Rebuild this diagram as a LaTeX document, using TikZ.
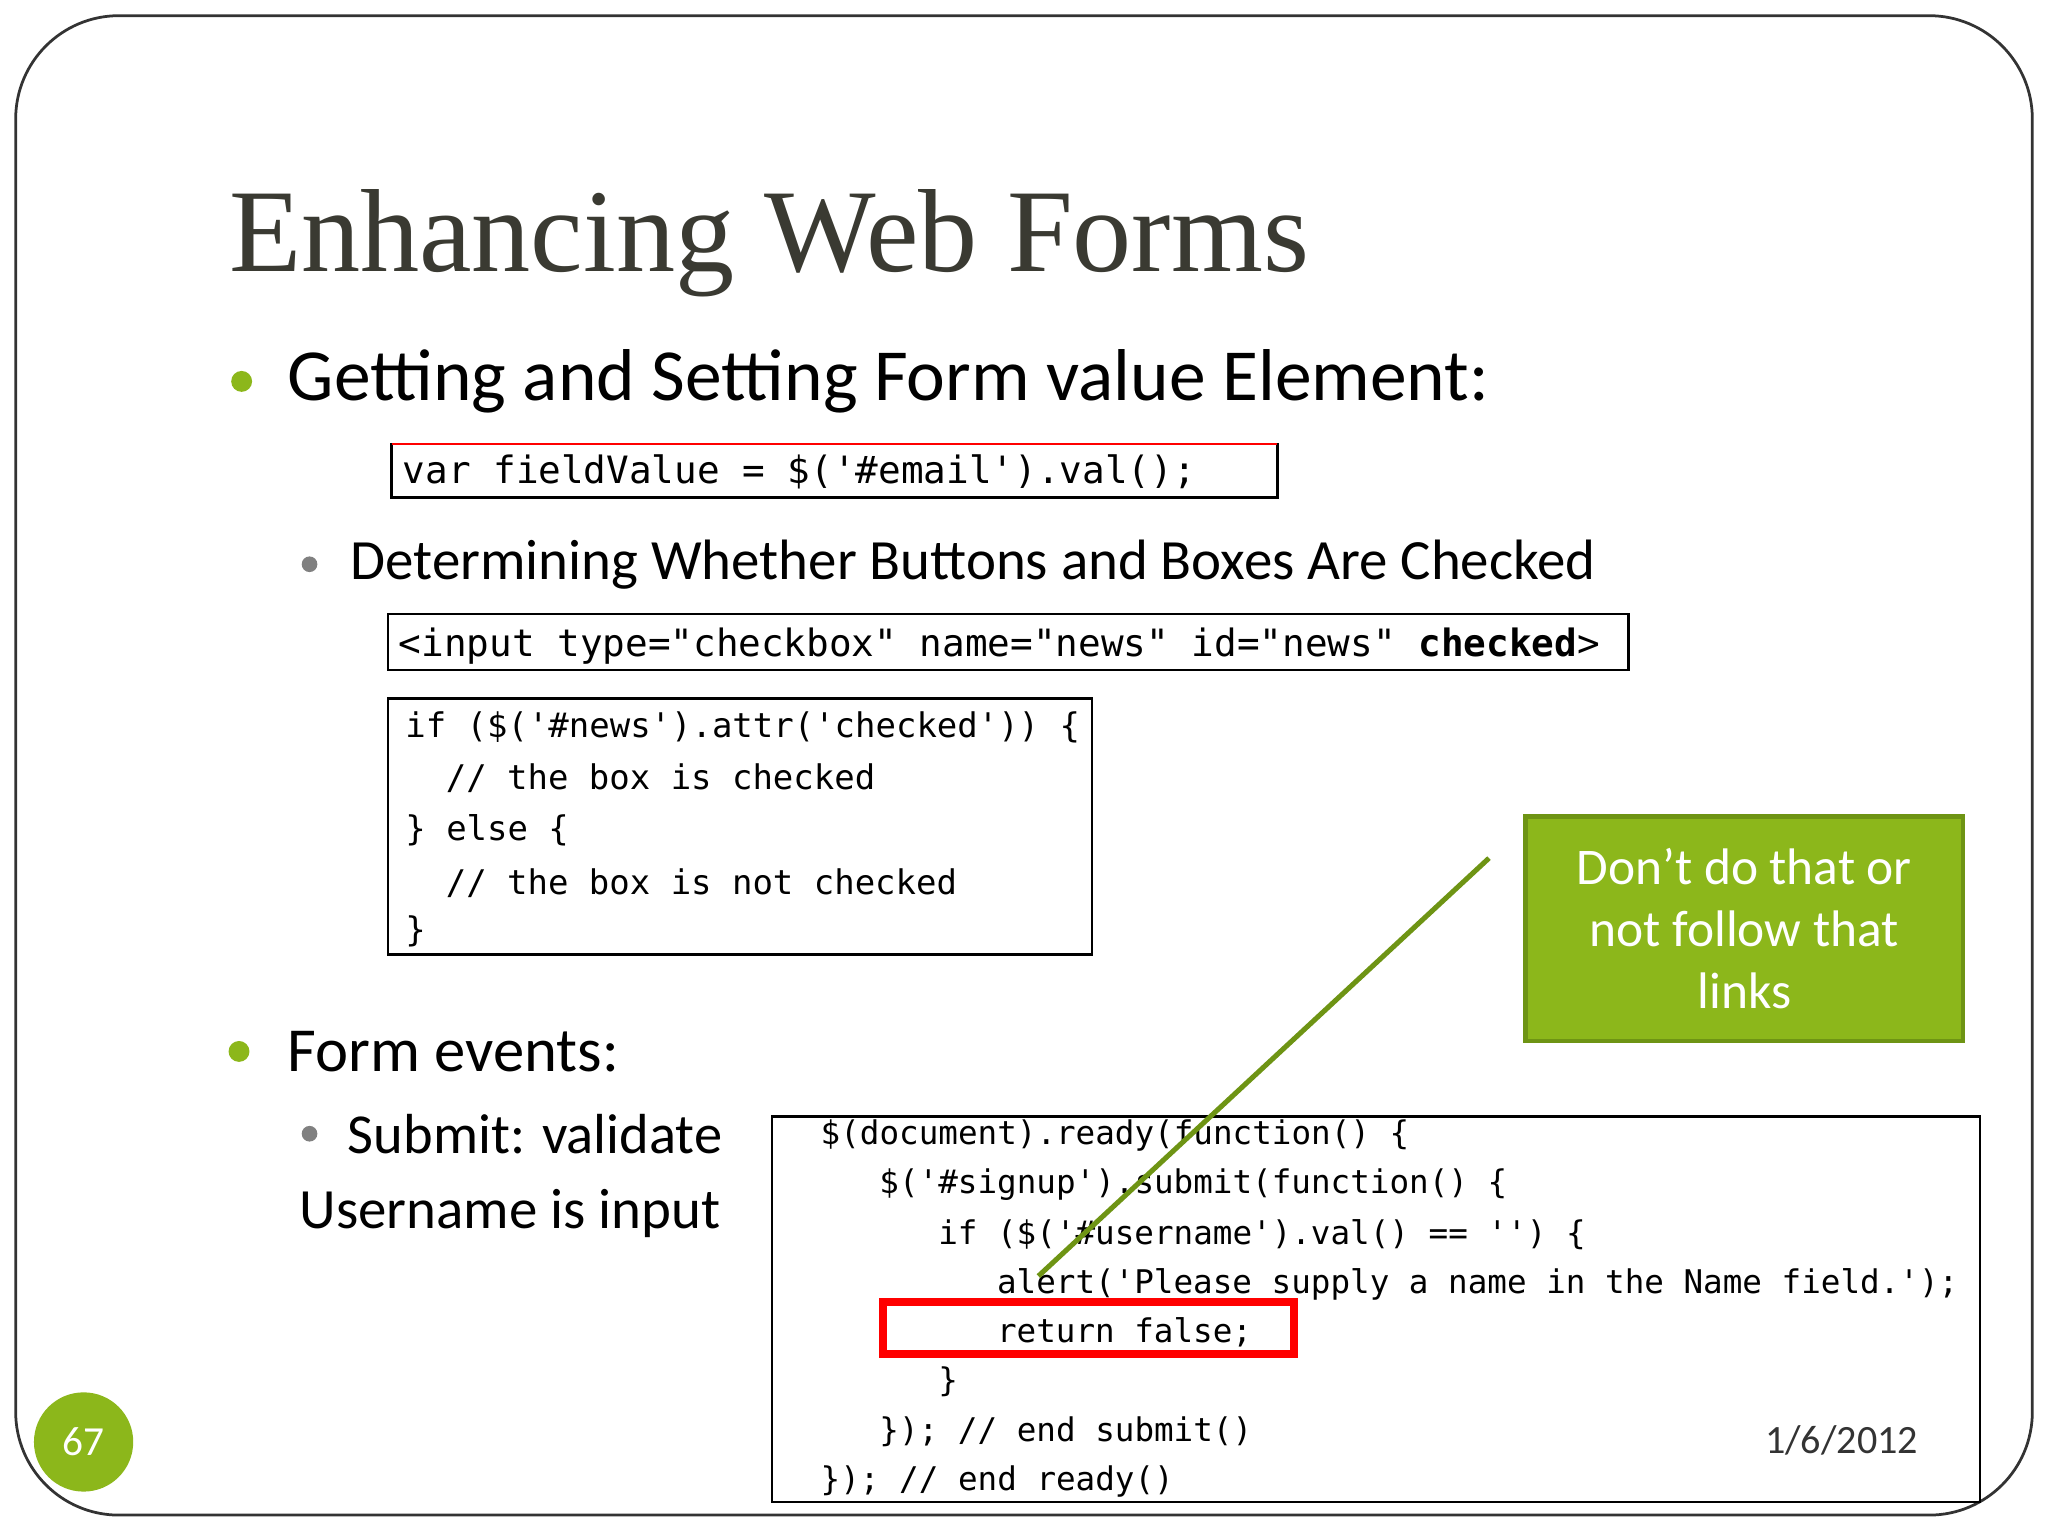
\documentclass[tikz,border=0pt]{standalone}
\usepackage{fontspec}
\setmainfont{Carlito}
\newfontfamily\titlefont{Liberation Serif}
\newfontfamily\codefont{DejaVu Sans Mono}
\definecolor{lime}{HTML}{8CB71B}
\definecolor{limedark}{HTML}{6E9414}
\definecolor{titlegray}{HTML}{3A3A32}
\tikzset{
 txt/.style={anchor=west,inner sep=0pt},
 cbox/.style={draw=black,line width=1.2pt},
 c1/.style={txt,font=\codefont\fontsize{16.4}{18}\selectfont},
 c2/.style={txt,font=\codefont\fontsize{14.8}{18}\selectfont},
 c3/.style={txt,font=\codefont\fontsize{14.2}{18}\selectfont},
}
\begin{document}
\begin{tikzpicture}[x=0.02cm,y=-0.02cm]
\useasboundingbox (0,0) rectangle (1568,1176);
\draw[line width=1.2pt,rounded corners=45pt,draw=black!80] (12,12) rectangle (1556,1160);
\node[txt,anchor=base west,font=\titlefont\fontsize{51.5}{55}\selectfont,text=titlegray] (title) at (175,208) {Enhancing Web Forms};
\fill[lime] (185,292) circle (8);
\node[txt,font=\fontsize{32}{36}\selectfont] (b1) at (220,292) {Getting and Setting Form value Element:};
\draw[cbox] (300,340) rectangle (978,381);
\draw[red,line width=1pt] (300,340) -- (978,340);
\node[c1] (code1) at (308,361) {var fieldValue = \$('\#email').val();};
\fill[gray] (237,432) circle (6);
\node[txt,font=\fontsize{24.8}{28}\selectfont] (b2) at (268,432) {Determining Whether Buttons and Boxes Are Checked};
\draw[cbox] (297,470) rectangle (1247,513);
\node[c1] (code2) at (305,495) {<input type="checkbox" name="news" id="news" \textbf{checked}>};
\draw[cbox] (297,535) rectangle (836,731);
\node[c2] at (310,557) {if (\$('\#news').attr('checked')) \{};
\node[c2] at (341,596) {// the box is checked};
\node[c2] at (310,636) {\} else \{};
\node[c2] at (341,676) {// the box is not checked};
\node[c2] at (310,713) {\}};
\fill[lime] (183,805) circle (8);
\node[txt,font=\fontsize{27.3}{30}\selectfont] (b3) at (220,805) {Form events:};
\fill[gray] (237,868) circle (6);
\node[txt,font=\fontsize{24.6}{28}\selectfont] (b4) at (266,868) {Submit: validate};
\node[txt,font=\fontsize{24.8}{28}\selectfont] (b5) at (229,929) {Username is input};
\draw[cbox] (591,855) rectangle (1516,1150);
\node[c3] at (628,869) {\$(document).ready(function() \{};
\node[c3] at (673,907) {\$('\#signup').submit(function() \{};
\node[c3] at (718,945) {if (\$('\#username').val() == '') \{};
\node[c3] at (763,983) {alert('Please supply a name in the Name field.');};
\node[c3] at (763,1020) {return false;};
\node[c3] at (718,1058) {\}};
\node[c3] at (673,1096) {\}); // end submit()};
\node[c3] at (628,1134) {\}); // end ready()};
\draw[red,line width=3.5pt] (676,997) rectangle (991,1037);
\node[draw=limedark,fill=lime,line width=2pt,minimum width=335*0.02cm,minimum height=172*0.02cm,text=white,align=center,font=\fontsize{22.4}{27}\selectfont] (note) at (1335.5,711) {Don’t do that or\\not follow that\\links};
\coordinate (tip) at (795,977);
\draw[limedark,line width=2.2pt] (1140,657) -- (tip);
\fill[lime] (64,1104) circle (38);
\node[text=white,font=\fontsize{18}{20}\selectfont] (pg) at (64,1104) {67};
\node[font=\fontsize{17.5}{20}\selectfont,text=black!80] (date) at (1410,1103) {1/6/2012};
\end{tikzpicture}
\end{document}
